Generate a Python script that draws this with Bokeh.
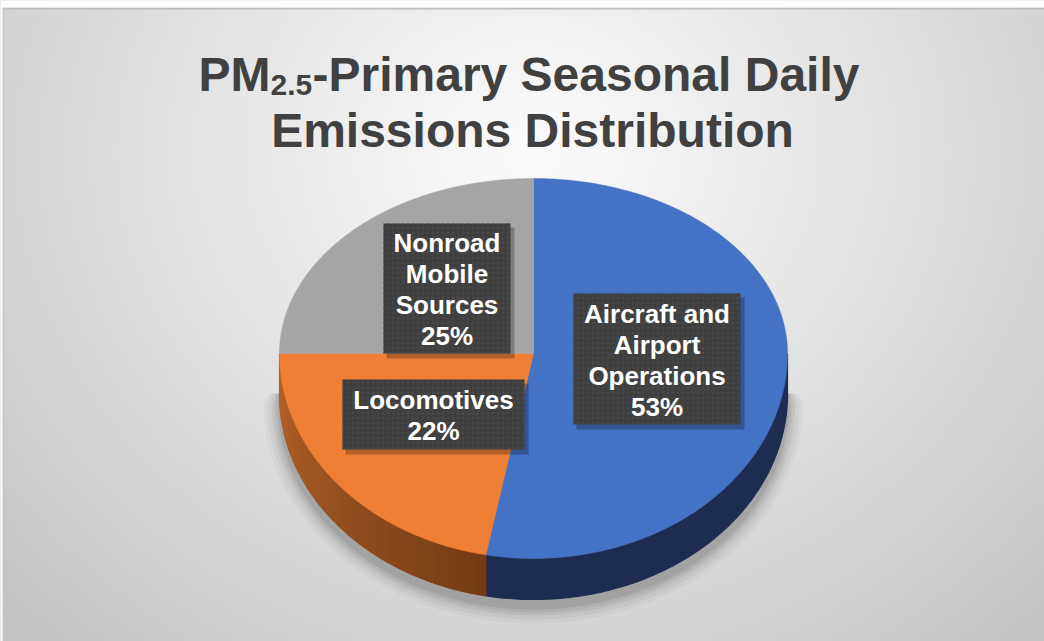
import numpy as np
from bokeh.plotting import figure
from bokeh.models import Range1d
from bokeh.core.properties import value
from bokeh.embed import file_html
from bokeh.resources import INLINE

# ---------------- data ----------------
categories = ["Aircraft and Airport Operations", "Locomotives", "Nonroad Mobile Sources"]
shares = [53, 22, 25]
label_names = [["Aircraft and", "Airport", "Operations"], ["Locomotives"], ["Nonroad", "Mobile", "Sources"]]
top_colors = ["#4472C4", "#EE7F35", "#A5A5A5"]

# ---------------- layout ----------------
W, H = 1044, 641
FONT = "Liberation Sans"

p = figure(width=W, height=H, x_range=Range1d(0, W), y_range=Range1d(H, 0),
           output_backend="svg", toolbar_location=None, min_border=0,
           x_axis_type=None, y_axis_type=None, outline_line_color=None)
p.grid.visible = False
p.background_fill_color = "#dcdcdc"
p.border_fill_color = "#dcdcdc"

# background radial gradient (style only)
hs, ws = H // 2, W // 2
yy, xx = np.mgrid[0:hs, 0:ws]
gx = (xx * 2 - 530) / 620.0
gy = (yy * 2 - 150) / 560.0
r = np.sqrt(gx ** 2 + gy ** 2)
g = np.clip(251 - 46 * np.clip(r, 0, 1.25) ** 1.1, 195, 252).astype(np.uint8)
rgba = np.zeros((hs, ws, 4), dtype=np.uint8)
rgba[..., 0] = g
rgba[..., 1] = g
rgba[..., 2] = g
rgba[..., 3] = 255
img = rgba.view(dtype=np.uint32).reshape((hs, ws))
p.image_rgba(image=[img], x=0, y=0, dw=W, dh=H)
# thin frame lines at top / left like the reference
p.segment(x0=[0], y0=[8], x1=[W], y1=[8], line_color="#bdbdbd", line_width=2)
p.segment(x0=[3], y0=[8], x1=[3], y1=[H], line_color="#c4c4c4", line_width=1.5)
p.quad(left=[0], right=[W], top=[0], bottom=[7], fill_color="white", line_color=None)
p.quad(left=[0], right=[2], top=[0], bottom=[H], fill_color="white", line_color=None)

# ---------------- pie geometry ----------------
cx, cy = 533, 353
a_ax, b_top, b_bot = 254, 175, 205
depth = 41


def ell(theta, grow=0.0, dy=0.0):
    th = np.asarray(theta, dtype=float)
    s = np.sin(th)
    b = np.where(s > 0, b_top + grow, b_bot + grow)
    return cx + (a_ax + grow) * np.cos(th), cy - b * s + dy


total = float(sum(shares))
cum = np.concatenate([[0.0], np.cumsum(shares)]) / total
starts = np.pi / 2 - 2 * np.pi * cum[:-1]
ends = np.pi / 2 - 2 * np.pi * cum[1:]

# soft shadow (front only)
for grow, alpha in [(16, 0.03), (12, 0.04), (8, 0.05), (5, 0.06), (2, 0.08)]:
    th = np.linspace(0, -np.pi, 160)
    bx, by = ell(th, grow=grow, dy=depth + 8)
    xs = np.concatenate([[cx + a_ax + grow * 0.6], bx, [cx - a_ax - grow * 0.6]])
    ys = np.concatenate([[cy + 40], by, [cy + 40]])
    p.patch(xs, ys, fill_color="black", fill_alpha=alpha, line_color=None)

# side walls (front half only)
side_xs, side_ys, side_cols = [], [], []
for i in range(len(shares)):
    lo, hi = min(starts[i], ends[i]), max(starts[i], ends[i])
    for off in (0.0, -2 * np.pi):
        l2, h2 = max(lo + off, -np.pi), min(hi + off, 0.0)
        if h2 <= l2:
            continue
        if i == 0:
            ths = np.linspace(l2, h2, 120)
            ex, ey = ell(ths)
            side_xs.append(list(ex) + list(ex[::-1]))
            side_ys.append(list(ey) + list(ey[::-1] + depth))
            side_cols.append("#1D2C50")
            continue
        n = max(2, int((h2 - l2) / 0.03))
        ths = np.linspace(l2, h2, n + 1)
        for k in range(n):
            t1, t2 = ths[k], ths[k + 1]
            x1, y1 = ell(t1)
            x2, y2 = ell(t2)
            side_xs.append([float(x1), float(x2), float(x2), float(x1)])
            side_ys.append([float(y1), float(y2), float(y2) + depth, float(y1) + depth])
            tm = 0.5 * (t1 + t2)
            f = np.clip((-tm - np.pi / 2) / (np.pi / 2), 0, 1)
            c0 = np.array([0x6C, 0x36, 0x12])
            c1 = np.array([0xB8, 0x64, 0x2A])
            c = (c0 + (c1 - c0) * f).astype(int)
            side_cols.append("#%02x%02x%02x" % tuple(c))
p.patches(side_xs, side_ys, fill_color=side_cols, line_color=side_cols, line_width=1.2)

# top faces
top_xs, top_ys = [], []
for i in range(len(shares)):
    ths = np.linspace(starts[i], ends[i], 200)
    ex, ey = ell(ths)
    top_xs.append([cx] + list(ex))
    top_ys.append([cy] + list(ey))
p.patches(top_xs, top_ys, fill_color=top_colors, line_color=top_colors, line_width=0.5)

# ---------------- data labels ----------------
box_left = [573, 342, 383]
box_right = [740, 524, 510]
box_top = [293, 379, 223]
box_bottom = [424, 449, 353]
line_step = 31

p.quad(left=[v + 3 for v in box_left], right=[v + 4 for v in box_right],
       top=[v + 4 for v in box_top], bottom=[v + 5 for v in box_bottom],
       fill_color="black", fill_alpha=0.25, line_color=None)
p.quad(left=box_left, right=box_right, top=box_top, bottom=box_bottom,
       fill_color="#3F3F3F", line_color=None,
       hatch_pattern="dot", hatch_color="#494949", hatch_scale=5, hatch_weight=1)

lx, ly, lt = [], [], []
for i in range(len(shares)):
    lines = label_names[i] + ["%d%%" % shares[i]]
    mid_x = 0.5 * (box_left[i] + box_right[i])
    mid_y = 0.5 * (box_top[i] + box_bottom[i])
    n = len(lines)
    for j, t in enumerate(lines):
        lx.append(mid_x)
        ly.append(mid_y + (j - (n - 1) / 2) * line_step + 1)
        lt.append(t)
p.text(x=lx, y=ly, text=lt, text_color="white", text_font=value(FONT),
       text_font_style="bold", text_font_size="26px", text_align="center",
       text_baseline="middle")

# ---------------- title ----------------
title_col = "#404040"
p.text(x=[270], y=[74], text=["PM"], text_color=title_col, text_font=value(FONT),
       text_font_style="bold", text_font_size="48px", text_align="right",
       text_baseline="alphabetic")
p.text(x=[270], y=[84], text=["2.5"], text_color=title_col, text_font=value(FONT),
       text_font_style="bold", text_font_size="30px", text_align="left",
       text_baseline="alphabetic")
p.text(x=[312], y=[74], text=["-Primary Seasonal Daily"], text_color=title_col,
       text_font=value(FONT), text_font_style="bold", text_font_size="48px",
       text_align="left", text_baseline="alphabetic")
p.text(x=[532], y=[130], text=["Emissions Distribution"], text_color=title_col,
       text_font=value(FONT), text_font_style="bold", text_font_size="48px",
       text_align="center", text_baseline="alphabetic")

open("out.html", "w").write(file_html(p, INLINE))
